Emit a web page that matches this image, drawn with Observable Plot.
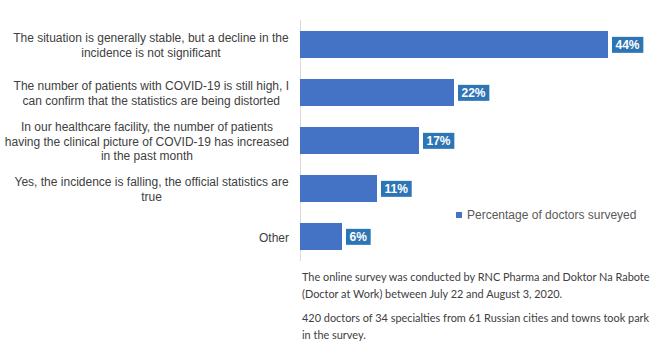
<!DOCTYPE html>
<html>
<head>
<meta charset="utf-8">
<script src="https://cdn.jsdelivr.net/npm/d3@7"></script>
<script src="https://cdn.jsdelivr.net/npm/@observablehq/plot@0.6"></script>
<style>
  body { margin: 0; background: #fff; }
  #wrap { position: relative; width: 666px; height: 356px; overflow: hidden; background: #fff; }
  #legend { position: absolute; left: 456px; top: 208px; font: 12px "Liberation Sans", Arial, sans-serif; line-height: 14px; color: #595959; display: flex; align-items: center; white-space: nowrap; }
  #legend .sw { width: 6px; height: 6px; background: #4472C4; margin-right: 5px; }
  #note { position: absolute; left: 302px; top: 269px; font-family: Lato, "Open Sans", sans-serif; font-size: 11px; line-height: 16.5px; color: #404040; white-space: nowrap; }
  #note p { margin: 0 0 8px 0; }
</style>
</head>
<body>
<div id="wrap"></div>
<script>
// ---- data ----
const categories = [
  "The situation is generally stable, but a decline in the incidence is not significant",
  "The number of patients with COVID-19 is still high, I can confirm that the statistics are being distorted",
  "In our healthcare facility, the number of patients having the clinical picture of COVID-19 has increased in the past month",
  "Yes, the incidence is falling, the official statistics are true",
  "Other"
];
const categoryLabels = [
  "The situation is generally stable, but a decline in the\nincidence is not significant",
  "The number of patients with COVID-19 is still high, I\ncan confirm that the statistics are being distorted",
  "In our healthcare facility, the number of patients\nhaving the clinical picture of COVID-19 has increased\nin the past month",
  "Yes, the incidence is falling, the official statistics are\ntrue",
  "Other"
];
const values = [44, 22, 17, 11, 6];
const seriesName = "Percentage of doctors surveyed";
const noteParagraphs = [
  ["The online survey was conducted by RNC Pharma and Doktor Na Rabote", "(Doctor at Work) between July 22 and August 3, 2020."],
  ["420 doctors of 34 specialties from 61 Russian cities and towns took park", "in the survey."]
];

const data = categories.map((c, i) => ({category: c, label: categoryLabels[i], value: values[i]}));

const BAR = "#4472C4", LABELBOX = "#2E75B6", TEXT = "#404040";

const plot = Plot.plot({
  width: 666,
  height: 356,
  marginLeft: 300,
  marginRight: 16,
  marginTop: 20,
  marginBottom: 95,
  x: {domain: [0, 50], axis: null},
  y: {domain: categories, axis: null, paddingInner: 0.44, paddingOuter: 0.22},
  style: {fontFamily: '"Liberation Sans", Arial, sans-serif', fontSize: "12px", color: TEXT, background: "white"},
  marks: [
    Plot.ruleX([0], {stroke: "#D9D9D9", strokeWidth: 1}),
    Plot.barX(data, {x: "value", y: "category", fill: BAR}),
    Plot.text(data, {x: "value", y: "category", text: d => d.value + "%", textAnchor: "start", dx: 7, fill: "white", fontWeight: "bold", fontSize: 12}),
    Plot.text(data, {y: "category", text: "label", frameAnchor: "left", textAnchor: "middle", dx: -149, lineHeight: 1.2, fill: TEXT, fontSize: 12})
  ]
});

const wrap = document.getElementById("wrap");
wrap.appendChild(plot);

// post-process: label boxes and right-aligned category blocks
const svg = plot.tagName.toLowerCase() === "svg" ? plot : plot.querySelector("svg");
const textGroups = svg.querySelectorAll('g[aria-label="text"]');
const ns = "http://www.w3.org/2000/svg";
if (textGroups[0]) {
  textGroups[0].querySelectorAll("text").forEach(t => {
    const bb = t.getBBox();
    const r = document.createElementNS(ns, "rect");
    const tr = t.getAttribute("transform");
    if (tr) r.setAttribute("transform", tr);
    r.setAttribute("x", bb.x - 3.5);
    r.setAttribute("y", bb.y + bb.height / 2 - 8);
    r.setAttribute("width", bb.width + 7);
    r.setAttribute("height", 16);
    r.setAttribute("fill", LABELBOX);
    t.parentNode.insertBefore(r, t);
  });
}
if (textGroups[1]) {
  const sr = svg.getBoundingClientRect();
  const targetRight = plot.scale("x").range[0] - 11;
  textGroups[1].querySelectorAll("text").forEach(t => {
    const r = t.getBoundingClientRect();
    const delta = targetRight - (r.right - sr.left);
    t.setAttribute("transform", (t.getAttribute("transform") || "") + ` translate(${delta},0)`);
  });
}

// legend
const legend = document.createElement("div");
legend.id = "legend";
legend.innerHTML = `<span class="sw"></span><span></span>`;
legend.lastChild.textContent = seriesName;
wrap.appendChild(legend);

// note: fit the first line to the reference's width (about 349px)
const ctx = document.createElement("canvas").getContext("2d");
ctx.font = '11px Lato';
const w11 = ctx.measureText(noteParagraphs[0][0]).width;
const noteSize = Math.min(12, 11 * 349 / w11);
const note = document.createElement("div");
note.id = "note";
note.style.fontSize = noteSize.toFixed(2) + "px";
noteParagraphs.forEach(lines => {
  const p = document.createElement("p");
  lines.forEach((l, i) => {
    if (i) p.appendChild(document.createElement("br"));
    p.appendChild(document.createTextNode(l));
  });
  note.appendChild(p);
});
wrap.appendChild(note);
</script>
</body>
</html>
